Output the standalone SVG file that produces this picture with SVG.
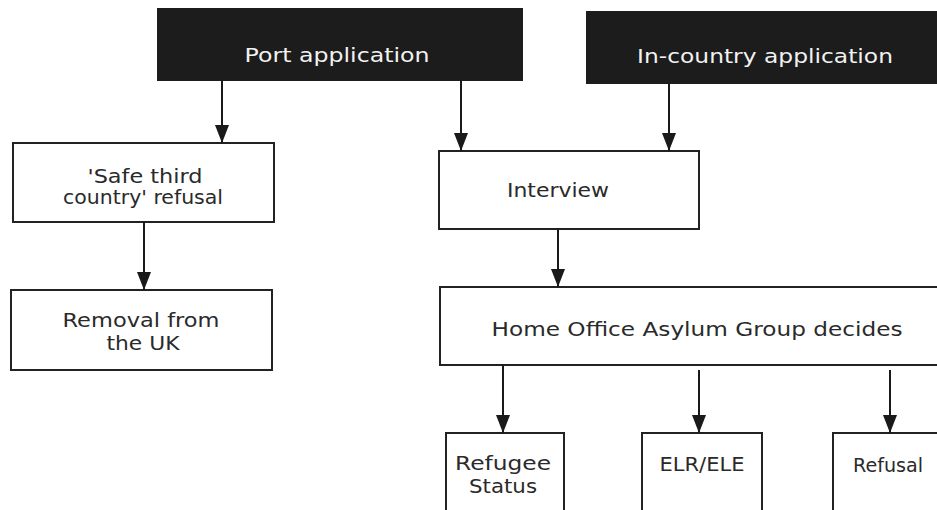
<svg xmlns="http://www.w3.org/2000/svg" width="937" height="510" viewBox="0 0 937 510">
<style>
.dark{fill:#1c1c1c;stroke:#1c1c1c;stroke-width:2}
.box{fill:#ffffff;stroke:#222222;stroke-width:2}
.lt{font-family:"DejaVu Sans","Liberation Sans",sans-serif;font-size:19px;fill:#f2f2f2;text-anchor:middle}
.t{font-family:"DejaVu Sans","Liberation Sans",sans-serif;font-size:19px;fill:#2a2a2a;text-anchor:middle}
.c{stroke:#1a1a1a;stroke-width:2;fill:none;marker-end:url(#ah)}
</style>
<defs>
<marker id="ah" markerUnits="userSpaceOnUse" markerWidth="18" markerHeight="14" refX="18" refY="7" orient="auto">
<path d="M0,0 L18,7 L0,14 z" fill="#1a1a1a"/>
</marker>
</defs>
<rect width="937" height="510" fill="#ffffff"/>
<g id="port">
<rect class="dark" x="158" y="9" width="364" height="71"/>
<text class="lt" x="337" y="62" textLength="185" lengthAdjust="spacingAndGlyphs">Port application</text>
</g>
<g id="incountry">
<rect class="dark" x="587" y="12" width="355" height="71"/>
<text class="lt" x="765" y="63" textLength="256" lengthAdjust="spacingAndGlyphs">In-country application</text>
</g>
<g id="safethird">
<rect class="box" x="13" y="143" width="261" height="79"/>
<text class="t" x="145" y="183" textLength="115" lengthAdjust="spacingAndGlyphs">'Safe third</text>
<text class="t" x="143" y="204" textLength="160" lengthAdjust="spacingAndGlyphs">country' refusal</text>
</g>
<g id="removal">
<rect class="box" x="11" y="290" width="261" height="80"/>
<text class="t" x="141" y="327" textLength="157" lengthAdjust="spacingAndGlyphs">Removal from</text>
<text class="t" x="143" y="350" textLength="73" lengthAdjust="spacingAndGlyphs">the UK</text>
</g>
<g id="interview">
<rect class="box" x="439" y="151" width="260" height="78"/>
<text class="t" x="558" y="197" textLength="102" lengthAdjust="spacingAndGlyphs">Interview</text>
</g>
<g id="homeoffice">
<rect class="box" x="440" y="287" width="502" height="78"/>
<text class="t" x="697" y="336" textLength="411" lengthAdjust="spacingAndGlyphs">Home Office Asylum Group decides</text>
</g>
<g id="refugee">
<rect class="box" x="446" y="433" width="118" height="90"/>
<text class="t" x="503" y="470" textLength="96" lengthAdjust="spacingAndGlyphs">Refugee</text>
<text class="t" x="503" y="493" textLength="68" lengthAdjust="spacingAndGlyphs">Status</text>
</g>
<g id="elr">
<rect class="box" x="642" y="433" width="120" height="90"/>
<text class="t" x="702" y="471" textLength="85" lengthAdjust="spacingAndGlyphs">ELR/ELE</text>
</g>
<g id="refusal">
<rect class="box" x="833" y="433" width="120" height="90"/>
<text class="t" x="888" y="472" textLength="70" lengthAdjust="spacingAndGlyphs">Refusal</text>
</g>
<g id="connectors">
<line class="c" x1="222" y1="80" x2="222" y2="143"/>
<line class="c" x1="461" y1="80" x2="461" y2="151"/>
<line class="c" x1="669" y1="83" x2="669" y2="151"/>
<line class="c" x1="144" y1="222" x2="144" y2="290"/>
<line class="c" x1="558" y1="229" x2="558" y2="287"/>
<line class="c" x1="503" y1="365" x2="503" y2="433"/>
<line class="c" x1="699" y1="370" x2="699" y2="433"/>
<line class="c" x1="890" y1="370" x2="890" y2="433"/>
</g>
</svg>
